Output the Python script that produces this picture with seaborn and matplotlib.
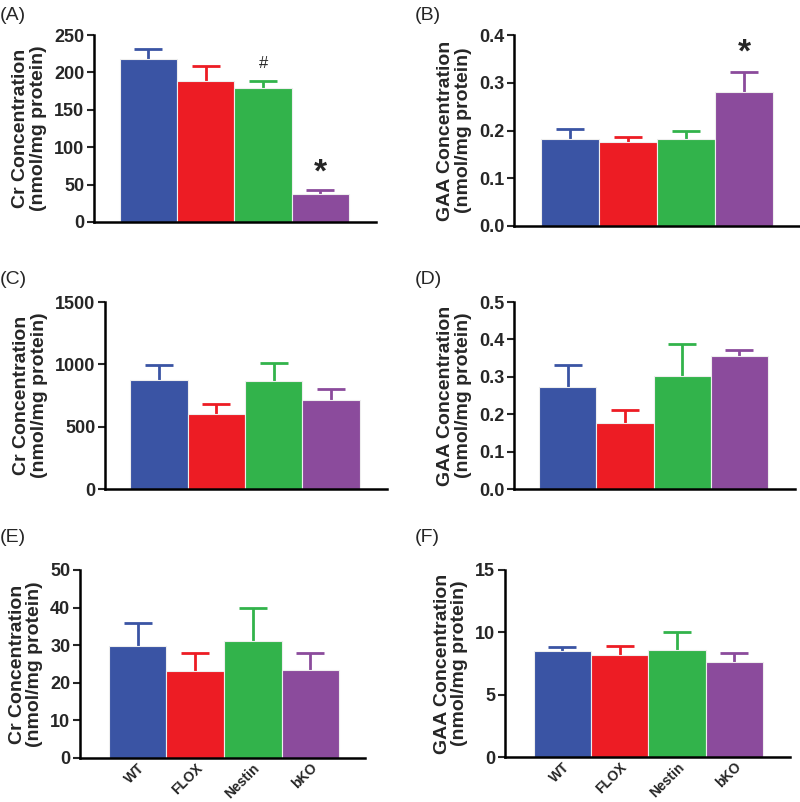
import numpy as np
import pandas as pd
import seaborn as sns
import matplotlib.pyplot as plt

# groups and colours
groups = ["WT", "FLOX", "Nestin", "bKO"]
colors = ["#3a54a4", "#ed1c24", "#32b34b", "#8b4b9c"]

# means and top of the error bars
cr_a = [218, 188, 179, 38]
cr_a_top = [231, 208, 189, 43]
gaa_b = [0.182, 0.176, 0.182, 0.281]
gaa_b_top = [0.203, 0.187, 0.198, 0.323]
cr_c = [875, 600, 865, 710]
cr_c_top = [995, 685, 1010, 800]
gaa_d = [0.272, 0.177, 0.302, 0.356]
gaa_d_top = [0.332, 0.210, 0.388, 0.371]
cr_e = [29.8, 23.2, 31.1, 23.3]
cr_e_top = [36.0, 28.0, 39.8, 27.9]
gaa_f = [8.5, 8.15, 8.6, 7.6]
gaa_f_top = [8.8, 8.9, 10.05, 8.35]

cr_label = "Cr Concentration\n(nmol/mg protein)"
gaa_label = "GAA Concentration\n(nmol/mg protein)"

sns.set_style("ticks")
plt.rcParams["font.family"] = ["Liberation Sans", "DejaVu Sans"]

fig = plt.figure(figsize=(8, 8.02), dpi=100)
W, H = 800, 802


def make_ax(left, right, top, bottom):
    return fig.add_axes([left / W, 1 - bottom / H, (right - left) / W, (bottom - top) / H])


def draw(ax, means, tops, ylabel, yticks, fmt, xlim, show_x=False):
    df = pd.DataFrame({"group": groups, "value": means})
    sns.barplot(data=df, x="group", y="value", hue="group", palette=colors,
                saturation=1, width=1.0, edgecolor="#eeeeee", linewidth=0.8,
                legend=False, ax=ax)
    up = np.array(tops) - np.array(means)
    for i in range(len(groups)):
        eb = ax.errorbar(i, means[i], yerr=[[0], [up[i]]], color=colors[i],
                         capsize=10, capthick=2, elinewidth=2, zorder=0.5)
        eb[1][0].set_visible(False)  # only the upper cap
    ax.set_xlim(*xlim)
    ax.set_ylim(yticks[0], yticks[-1])
    ax.set_yticks(yticks)
    ax.set_yticklabels([fmt.format(t) for t in yticks], fontweight="bold", fontsize=13)
    ax.set_ylabel(ylabel, fontweight="bold", fontsize=14, labelpad=5, linespacing=1.05)
    ax.set_xlabel("")
    if show_x:
        ax.set_xticks(range(len(groups)))
        ax.set_xticklabels(groups, rotation=45, ha="right", rotation_mode="anchor",
                           fontweight="bold", fontsize=10)
    else:
        ax.set_xticks([])
    ax.tick_params(axis="x", length=0, pad=2)
    ax.tick_params(axis="y", width=1.5, length=5, pad=2)
    for s in ["left", "bottom"]:
        ax.spines[s].set_linewidth(1.8)
        ax.spines[s].set_color("black")
    sns.despine(ax=ax)


ax_a = make_ax(94, 376, 35, 222)
draw(ax_a, cr_a, cr_a_top, cr_label, [0, 50, 100, 150, 200, 250], "{:d}", (-0.95, 3.97))
ax_a.text(2, 212, "#", ha="center", va="center", fontsize=12)
ax_a.text(3, 66, "*", ha="center", va="center", fontsize=24, fontweight="bold")

ax_b = make_ax(514, 800, 35, 226)
draw(ax_b, gaa_b, gaa_b_top, gaa_label, [0, 0.1, 0.2, 0.3, 0.4], "{:.1f}", (-0.966, 3.966))
ax_b.text(3, 0.362, "*", ha="center", va="center", fontsize=24, fontweight="bold")

ax_c = make_ax(105, 387, 302, 489)
draw(ax_c, cr_c, cr_c_top, cr_label, [0, 500, 1000, 1500], "{:d}", (-0.935, 3.97))

ax_d = make_ax(514, 795, 302, 489)
draw(ax_d, gaa_d, gaa_d_top, gaa_label, [0, 0.1, 0.2, 0.3, 0.4, 0.5], "{:.1f}", (-0.94, 3.97))

ax_e = make_ax(80, 365, 570, 758)
draw(ax_e, cr_e, cr_e_top, cr_label, [0, 10, 20, 30, 40, 50], "{:d}", (-1.0, 3.95), show_x=True)

ax_f = make_ax(505, 790, 570, 757)
draw(ax_f, gaa_f, gaa_f_top, gaa_label, [0, 5, 10, 15], "{:d}", (-1.0, 3.97), show_x=True)

# panel letters
for lab, x, y in [("(A)", 0, 15), ("(B)", 415, 15), ("(C)", 0, 280),
                  ("(D)", 415, 280), ("(E)", 0, 538), ("(F)", 415, 538)]:
    fig.text(x / W, 1 - y / H, lab, ha="left", va="center", fontsize=14)

fig.savefig("out.png", dpi=100)
